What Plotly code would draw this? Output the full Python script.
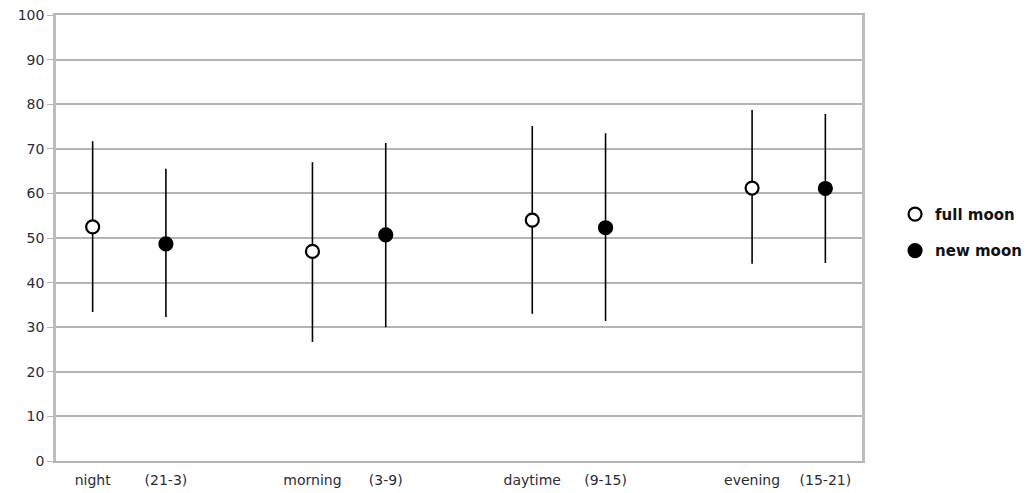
import plotly.graph_objects as go

categories = ["night", "(21-3)", "morning", "(3-9)", "daytime", "(9-15)", "evening", "(15-21)"]
full_pos = [0.5, 3.5, 6.5, 9.5]
new_pos = [1.5, 4.5, 7.5, 10.5]
tick_pos = [0.5, 1.5, 3.5, 4.5, 6.5, 7.5, 9.5, 10.5]

full_mean = [52.5, 47.0, 54.0, 61.2]
full_upper = [71.7, 67.0, 75.1, 78.7]
full_lower = [33.4, 26.7, 33.0, 44.2]

new_mean = [48.7, 50.7, 52.3, 61.1]
new_upper = [65.5, 71.3, 73.5, 77.8]
new_lower = [32.3, 30.0, 31.4, 44.4]

fig = go.Figure()

def add(name, xs, mean, up, lo, fill, group):
    fig.add_trace(go.Scatter(
        x=xs, y=mean, mode="markers", name=name, legendgroup=group,
        marker=dict(symbol="circle", size=13, color=fill, line=dict(color="black", width=2.2)),
        error_y=dict(type="data", symmetric=False,
                     array=[u - m for u, m in zip(up, mean)],
                     arrayminus=[m - l for m, l in zip(mean, lo)],
                     width=0, thickness=1.6, color="black"),
    ))

add("full moon", full_pos, full_mean, full_upper, full_lower, "white", "a")
add("new moon", new_pos, new_mean, new_upper, new_lower, "black", "b")

fig.update_layout(
    width=1031, height=493,
    margin=dict(l=56, r=169, t=15, b=32, autoexpand=False),
    paper_bgcolor="white", plot_bgcolor="white",
    font=dict(family="DejaVu Sans", size=14, color="#2b2b38"),
    legend=dict(x=1.041, y=0.590, xanchor="left", yanchor="top",
                font=dict(size=15, color="#111", family="DejaVu Sans", weight="bold"),
                traceorder="grouped", tracegroupgap=14, itemwidth=30),
    showlegend=True,
)
fig.update_xaxes(range=[0, 11], tickvals=tick_pos, ticktext=categories, automargin=False,
                 showgrid=False, zeroline=False, ticks="", ticklabelstandoff=5,
                 showline=True, mirror=True, linecolor="#b4b4b4", linewidth=1.5,
                 tickfont=dict(size=14, color="#2b2b38"))
fig.update_yaxes(range=[0, 100], dtick=10, showgrid=True, gridcolor="#b4b4b4", gridwidth=1.5,
                 automargin=False,
                 zeroline=True, zerolinecolor="#b4b4b4", zerolinewidth=1.5,
                 showline=True, linecolor="#bdbdbd", linewidth=2.5, mirror=True,
                 ticks="outside", ticklen=6, tickcolor="#b4b4b4",
                 tickfont=dict(size=14, color="#2b2b38"))

fig.write_html("out.html", config={"displayModeBar": False},
               post_script="document.body.style.margin='0';")
